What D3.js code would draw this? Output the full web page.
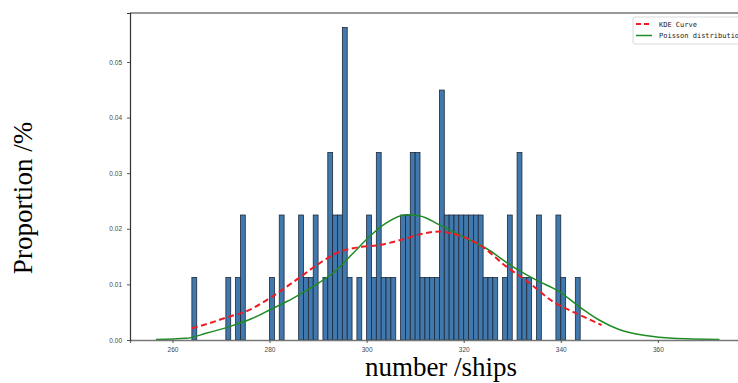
<!DOCTYPE html>
<html>
<head>
<meta charset="utf-8">
<script src="https://cdn.jsdelivr.net/npm/d3@7"></script>
<style>
body { margin: 0; background: #fff; }
</style>
</head>
<body>
<script>
var width = 738,
    height = 383;

// histogram: bins of width 1 starting at binStart
var binStart = 264;
var counts = [1, 0, 0, 0, 0, 0, 0, 1, 0, 1, 2, 0, 0, 0, 0, 0, 1, 0, 2, 0,
              0, 0, 2, 1, 1, 2, 0, 1, 3, 2, 2, 5, 1, 0, 1, 0, 2, 1, 3, 1,
              1, 1, 0, 2, 2, 3, 3, 1, 1, 1, 1, 4, 2, 2, 2, 2, 2, 2, 2, 2,
              1, 1, 1, 0, 1, 2, 0, 3, 1, 1, 0, 2, 0, 0, 0, 2, 1, 0, 0, 1];

// KDE curve
var kdeX = [264, 267.5, 271.7, 275.1, 280, 285.5, 290.3, 293.7, 297.2, 302.7, 307.5, 311, 315, 317.8,
            323.3, 328.8, 333.6, 338.4, 343.2, 348.4];
var kdeY = [0.0021, 0.0030, 0.0042, 0.0051, 0.0075, 0.0108, 0.0138, 0.0156, 0.0165, 0.0171, 0.0181, 0.0190, 0.0195, 0.0191,
            0.0171, 0.0132, 0.0102, 0.0069, 0.0048, 0.0027];

// Poisson distribution curve
var poisX = [256.6, 262.8, 266.9, 271.7, 276.5, 280, 284.8, 288.9, 293, 297.2, 300.6, 304, 308.2, 311,
             315, 319.8, 324.6, 330.1, 334.9, 339.7, 343.8, 347.9, 352, 357.5, 363, 372.7];
var poisY = [0.0001, 0.0003, 0.0012, 0.0024, 0.0039, 0.0054, 0.0075, 0.0096, 0.0120, 0.0156, 0.0186, 0.0210, 0.0225, 0.0223,
             0.0207, 0.0186, 0.0165, 0.0132, 0.0108, 0.0087, 0.0060, 0.0036, 0.0019, 0.0008, 0.0003, 0.0001];

var xTicks = [260, 280, 300, 320, 340, 360];
var yTicks = [0, 0.01, 0.02, 0.03, 0.04, 0.05];

var total = d3.sum(counts);
var bins = counts.map(function(c, i) {
    return { x0: binStart + i, x1: binStart + i + 1, y: c / total };
});

var svg = d3.select("body").append("svg")
    .attr("width", width)
    .attr("height", height)
    .style("font-family", "'Liberation Sans', Arial, sans-serif");

var plotLeft = 130, plotRight = 744, plotTop = 13, plotBottom = 340;

var x = d3.scaleLinear().domain([251.25, 377.75]).range([plotLeft, plotRight]);
var y = d3.scaleLinear().domain([0, 0.0588]).range([plotBottom, plotTop]);

// bars
svg.append("g").selectAll("rect")
    .data(bins.filter(function(d) { return d.y > 0; }))
    .enter().append("rect")
    .attr("x", function(d) { return x(d.x0); })
    .attr("y", function(d) { return y(d.y); })
    .attr("width", function(d) { return x(d.x1) - x(d.x0); })
    .attr("height", function(d) { return y(0) - y(d.y); })
    .attr("fill", "#4178ad")
    .attr("stroke", "#1c2a3a")
    .attr("stroke-width", 0.8);

var line = d3.line()
    .x(function(d) { return x(d[0]); })
    .y(function(d) { return y(d[1]); })
    .curve(d3.curveMonotoneX);

svg.append("path")
    .datum(d3.zip(poisX, poisY))
    .attr("d", line)
    .attr("fill", "none")
    .attr("stroke", "#1e8c24")
    .attr("stroke-width", 1.5);

svg.append("path")
    .datum(d3.zip(kdeX, kdeY))
    .attr("d", line)
    .attr("fill", "none")
    .attr("stroke", "#ee1c25")
    .attr("stroke-width", 2)
    .attr("stroke-dasharray", "6,3.5");

// axes
var xAxis = svg.append("g")
    .attr("transform", "translate(0," + plotBottom + ")")
    .call(d3.axisBottom(x).tickValues(xTicks).tickSize(3).tickPadding(4).tickFormat(d3.format("d")));
xAxis.select(".domain").attr("stroke", "#777").attr("stroke-width", 1.4);

var yAxis = svg.append("g")
    .attr("transform", "translate(" + plotLeft + ",0)")
    .call(d3.axisLeft(y).tickValues(yTicks).tickSize(3).tickPadding(5).tickFormat(d3.format(".2f")));
yAxis.select(".domain").attr("stroke", "#333").attr("stroke-width", 1.2);

svg.selectAll(".tick text").attr("fill", "#444").style("font-size", "6.5px").style("font-family", "'Liberation Sans', Arial, sans-serif");
svg.selectAll(".tick line").attr("stroke", "#555");

svg.append("line")
    .attr("x1", plotLeft).attr("x2", plotRight)
    .attr("y1", plotTop).attr("y2", plotTop)
    .attr("stroke", "#333").attr("stroke-width", 1.2);

// titles
svg.append("text")
    .attr("transform", "translate(32,198)rotate(-90)")
    .attr("text-anchor", "middle")
    .style("font-family", "'Liberation Serif', 'Times New Roman', serif")
    .style("font-size", "27px")
    .text("Proportion /%");

svg.append("text")
    .attr("x", 441)
    .attr("y", 376)
    .attr("text-anchor", "middle")
    .style("font-family", "'Liberation Serif', 'Times New Roman', serif")
    .style("font-size", "27px")
    .text("number /ships");

// legend
var legend = svg.append("g").attr("transform", "translate(633,17)");
legend.append("rect")
    .attr("width", 130).attr("height", 27)
    .attr("rx", 2)
    .attr("fill", "#fff")
    .attr("stroke", "#d0d0d0")
    .attr("stroke-width", 0.8);

var items = [
    { label: "KDE Curve", color: "#ee1c25", dash: "5,3", w: 2 },
    { label: "Poisson distribution", color: "#1e8c24", dash: null, w: 1.5 }
];
items.forEach(function(d, i) {
    var yy = 7 + i * 11.5;
    legend.append("line")
        .attr("x1", 3).attr("x2", 19)
        .attr("y1", yy).attr("y2", yy)
        .attr("stroke", d.color)
        .attr("stroke-width", d.w)
        .attr("stroke-dasharray", d.dash);
    legend.append("text")
        .attr("x", 26)
        .attr("y", yy + 2.5)
        .style("font-family", "'DejaVu Sans Mono', monospace")
        .style("font-size", "7px")
        .attr("fill", "#222")
        .text(d.label);
});
</script>
</body>
</html>
